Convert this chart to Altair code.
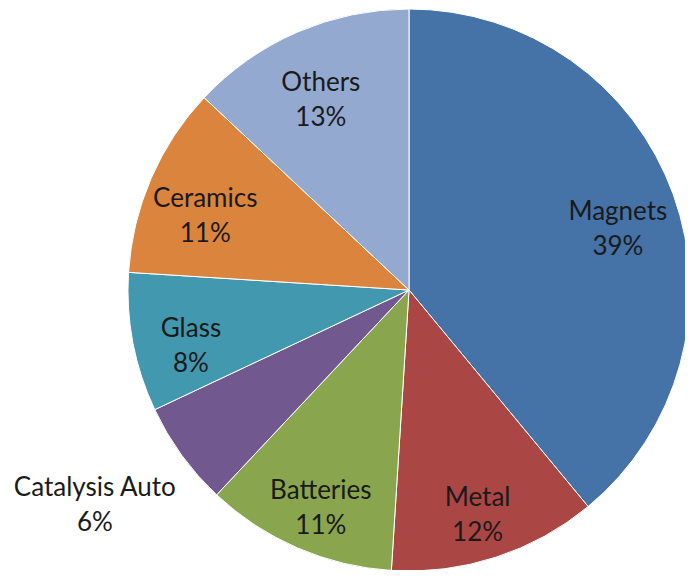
import altair as alt
import pandas as pd

categories = ["Magnets", "Metal", "Batteries", "Catalysis Auto", "Glass", "Ceramics", "Others"]
values = [39, 12, 11, 6, 8, 11, 13]
colors = ["#4572A7", "#AA4643", "#89A54E", "#71588F", "#4198AF", "#DB843D", "#93A9CF"]

df = pd.DataFrame({
    "category": categories,
    "value": values,
    "order": list(range(len(categories))),
})
df["label"] = [f"{c}\n{v}%" for c, v in zip(categories, values)]

CX, CY, R = 401, 282, 281

base = alt.Chart(df).encode(
    theta=alt.Theta("value:Q", stack=True),
    order=alt.Order("order:Q"),
    x=alt.value(CX),
    y=alt.value(CY),
)

pie = base.mark_arc(radius=R, stroke="white", strokeWidth=1).encode(
    color=alt.Color("category:N", scale=alt.Scale(domain=categories, range=colors), legend=None)
)

font = "Lato"
text_props = dict(lineBreak="\n", font=font, fontSize=26, color="#1a1a1a",
                  align="center", baseline="middle", lineHeight=35)

inner = base.mark_text(radius=222, dy=-3, **text_props).encode(
    text="inner_label:N"
).transform_calculate(
    inner_label="datum.category == 'Catalysis Auto' ? '' : datum.label"
)

outer = base.mark_text(radius=371, dx=-14, dy=-20, **text_props).encode(
    text="outer_label:N"
).transform_calculate(
    outer_label="datum.category == 'Catalysis Auto' ? datum.label : ''"
)

chart = alt.layer(pie, inner, outer).properties(
    width=677, height=562, autosize=alt.AutoSizeParams(type="none"), padding=0
).configure_view(stroke=None)

chart.save("out.html", embed_options={"renderer": "svg", "actions": False})
